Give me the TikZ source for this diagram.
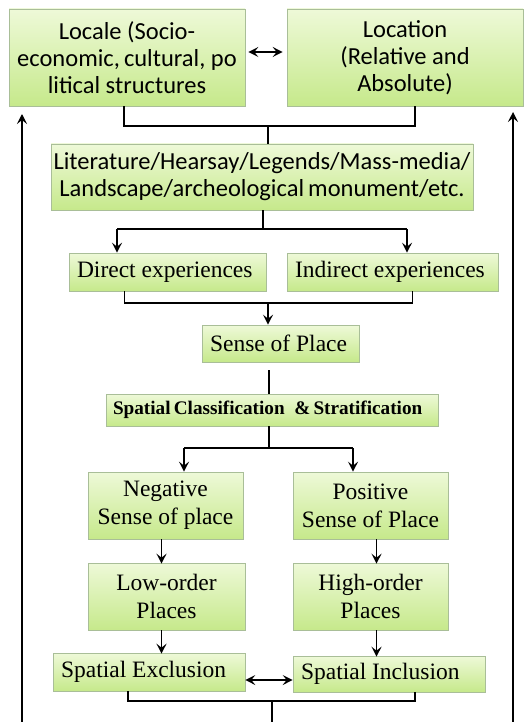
\documentclass[tikz,border=0pt]{standalone}
\usepackage{fontspec}
\setmainfont{Liberation Serif}
\newfontfamily\carl{Carlito}
\newfontfamily\tmsf{Liberation Serif}
\usetikzlibrary{arrows.meta,calc}
\definecolor{boxtop}{HTML}{EEF9D8}
\definecolor{boxbot}{HTML}{C6E98B}
\definecolor{boxline}{HTML}{A9BE98}
\tikzset{
  gbox/.style={draw=boxline, line width=0.6pt, top color=boxtop, bottom color=boxbot,
    inner sep=0pt, rectangle},
  sanstxt/.style={font=\carl\fontsize{24.5}{27}\selectfont, align=center},
  seriftxt/.style={font=\tmsf\fontsize{23.5}{28}\selectfont, align=center},
  leftser/.style={font=\tmsf\fontsize{23.5}{28}\selectfont},
  conn/.style={line width=1.8pt, black},
  arr/.style={conn, -{Stealth[length=10pt,width=10pt,inset=4pt]}},
  darr/.style={conn, {Stealth[length=10pt,width=10pt,inset=4pt]}-{Stealth[length=10pt,width=10pt,inset=4pt]}}
}
\newcommand{\lbox}[2]{\makebox[#1][l]{#2}}
\begin{document}
\begin{tikzpicture}[x=1pt,y=-1pt]
\useasboundingbox (0,0) rectangle (528,722);
% boxes
\node[gbox,sanstxt,minimum width=236pt,minimum height=97pt] (locale) at (127,57.5)
  {Locale (Socio-\\economic,\,cultural, po\\litical structures};
\node[gbox,sanstxt,minimum width=236pt,minimum height=97pt] (location) at (405,57.5)
  {Location\\(Relative and\\Absolute)};
\node[gbox,sanstxt,minimum width=422pt,minimum height=66pt] (lit) at (262,177)
  {Literature/Hearsay/Legends/Mass-media/\\Landscape/archeological\,monument/etc.};
\node[gbox,leftser,minimum width=197pt,minimum height=38pt] (direct) at (167.5,272)
  {\lbox{181pt}{Direct experiences}};
\node[gbox,leftser,minimum width=211pt,minimum height=38pt] (indirect) at (392.5,272)
  {\lbox{195pt}{Indirect experiences}};
\node[gbox,leftser,minimum width=157pt,minimum height=37pt] (sense) at (280.5,343.5)
  {\lbox{141pt}{Sense of Place}};
\node[gbox,font=\tmsf\bfseries\fontsize{19.2}{22}\selectfont,minimum width=332pt,minimum height=32pt] (spatial) at (272,410)
  {\lbox{318pt}{Spatial\,Classification \ \&\,Stratification}};
\node[gbox,seriftxt,minimum width=155pt,minimum height=67pt] (neg) at (165.5,505.5)
  {Negative\\Sense of place};
\node[gbox,seriftxt,minimum width=155pt,minimum height=67pt] (pos) at (370.5,505.5)
  {Positive\\Sense of Place};
\node[gbox,seriftxt,minimum width=157pt,minimum height=67pt] (low) at (166.5,596.5)
  {Low-order\\Places};
\node[gbox,seriftxt,minimum width=155pt,minimum height=67pt] (high) at (370.5,596.5)
  {High-order\\Places};
\node[gbox,leftser,minimum width=192pt,minimum height=38pt] (excl) at (149,672)
  {\lbox{176pt}{Spatial Exclusion}};
\node[gbox,leftser,minimum width=192pt,minimum height=36pt] (incl) at (389,674)
  {\lbox{176pt}{Spatial Inclusion}};
% junction coordinates
\coordinate (j1) at (268,126);
\coordinate (j2) at (263,229);
\coordinate (j2l) at (117,229);
\coordinate (j2r) at (407,229);
\coordinate (j3) at (268,303);
\coordinate (j4) at (269,448);
\coordinate (j4l) at (184,448);
\coordinate (j4r) at (353,448);
\coordinate (j5) at (272,701);
\coordinate (jb) at (272,740);
\coordinate (lb) at (22,740);
\coordinate (rb) at (513,740);
\coordinate (lt) at (22,114);
\coordinate (rt) at (513,112);
% connectors
\draw[darr] ([xshift=3pt,yshift=5.5pt]locale.east) -- ([xshift=-4pt,yshift=5.5pt]location.west);
\draw[conn] ([xshift=-3pt]locale.south) |- (j1) -| ([xshift=10pt]location.south);
\draw[conn] (j1) -- (j1 |- lit.north);
\draw[conn] (j2 |- lit.south) -- (j2);
\draw[arr] (j2l) -| (j2l |- direct.north);
\draw[arr] (j2r) -| (j2r |- indirect.north);
\draw[conn] (j2l) -- (j2r);
\draw[conn] ([xshift=-43pt]direct.south) |- (j3) -| ([xshift=20pt]indirect.south);
\draw[arr] (j3) -- (j3 |- sense.north);
\draw[conn] ([yshift=-8pt]sense.south -| j4) -- (j4 |- spatial.north);
\draw[conn] (j4 |- spatial.south) -- (j4);
\draw[conn] (j4l) -- (j4r);
\draw[arr] (j4l) -- (j4l |- neg.north);
\draw[arr] (j4r) -- (j4r |- pos.north);
\draw[arr] ([xshift=-4pt]neg.south) -- ([xshift=-4pt,yshift=-1pt]low.north -| neg.south);
\draw[arr] ([xshift=6pt]pos.south) -- ([xshift=6pt,yshift=-1pt]high.north -| pos.south);
\draw[arr] ([xshift=-5pt]low.south) -- ([xshift=-5pt,yshift=-1pt]excl.north -| low.south);
\draw[arr] ([xshift=6pt]high.south) -- ([xshift=6pt,yshift=-1pt]incl.north -| high.south);
\draw[darr] ([yshift=-8pt]excl.east) -- ([yshift=-6pt]incl.west);
\draw[conn] ([xshift=-21pt]excl.south) |- (j5) -| ([xshift=26pt]incl.south);
\draw[conn] (j5) -- (jb);
\draw[arr] (jb) -- (lb) -- (lt);
\draw[arr] (jb) -- (rb) -- (rt);
\end{tikzpicture}
\end{document}
